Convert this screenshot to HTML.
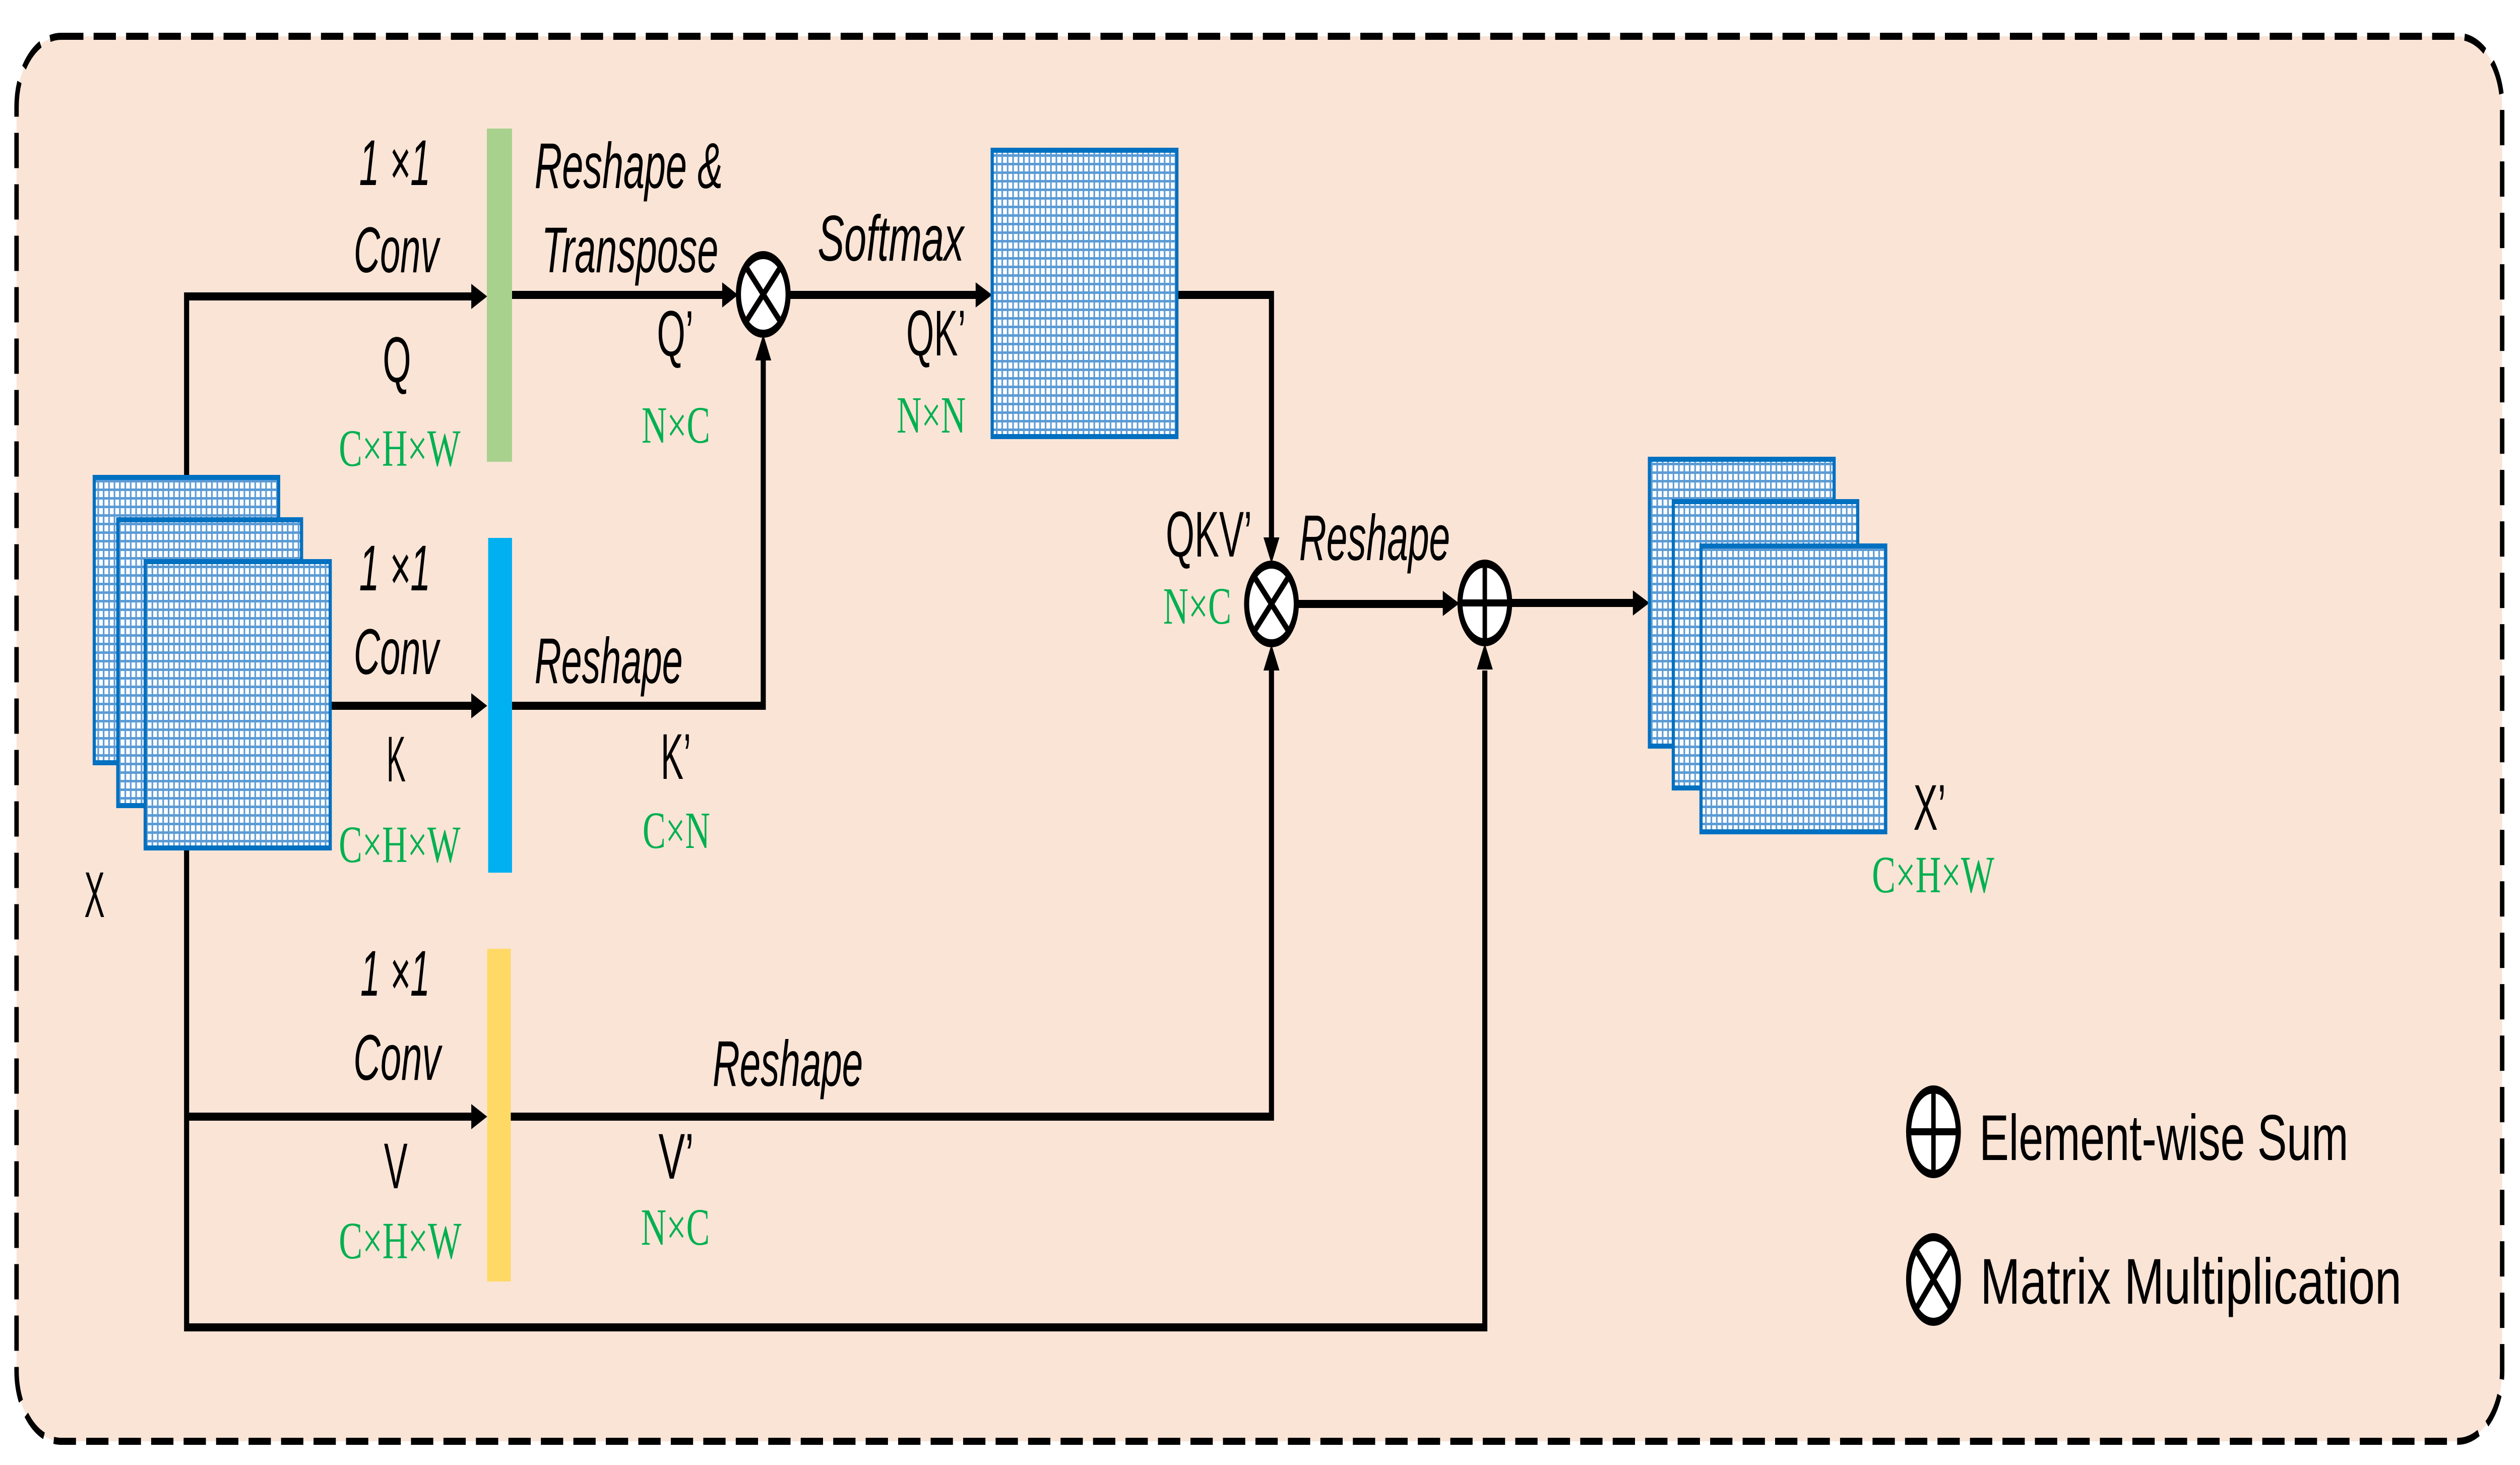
<!DOCTYPE html>
<html><head><meta charset="utf-8"><style>html,body{margin:0;padding:0;background:#fff;width:100%;height:100%;overflow:hidden}svg{display:block;width:100vw;height:100vh}</style></head>
<body>
<svg xmlns="http://www.w3.org/2000/svg" viewBox="0 0 7914 2906" preserveAspectRatio="none">
<defs>
<pattern id="g" patternUnits="userSpaceOnUse" width="17" height="17">
<rect width="17" height="17" fill="#ffffff"/>
<rect width="17" height="5" fill="#5b9bd5"/>
<rect width="5" height="17" fill="#5b9bd5"/>
</pattern>
</defs>
<rect x="52" y="72" width="7806" height="2787" rx="140" ry="140" fill="#fae4d6" stroke="#000" stroke-width="14" stroke-dasharray="70 32"/>

<g stroke="#000" stroke-width="16" fill="none">
<polyline points="1484,588 586,588 586,947"/>
<polyline points="586,1682 586,2633 4663,2633 4663,1330"/>
<line x1="586" y1="2215" x2="1484" y2="2215"/>
<line x1="1037" y1="1400" x2="1484" y2="1400"/>
<line x1="1608" y1="585" x2="2270" y2="585"/>
<polyline points="1608,1400 2397,1400 2397,715"/>
<line x1="2477" y1="585" x2="3066" y2="585"/>
<polyline points="3696,585 3993,585 3993,1070"/>
<polyline points="1604,2215 3993,2215 3993,1328"/>
<line x1="4073" y1="1198" x2="4533" y2="1198"/>
<line x1="4743" y1="1196" x2="5130" y2="1196"/>
</g>
<g fill="#000">
<polygon points="1530,588 1480,563 1480,613"/>
<polygon points="1530,1400 1480,1375 1480,1425"/>
<polygon points="1530,2215 1480,2190 1480,2240"/>
<polygon points="2318,585 2268,560 2268,610"/>
<polygon points="2397,663 2372,715 2422,715"/>
<polygon points="3116,585 3064,560 3064,610"/>
<polygon points="3993,1118 3968,1066 4018,1066"/>
<polygon points="3993,1278 3968,1330 4018,1330"/>
<polygon points="4583,1197 4531,1172 4531,1222"/>
<polygon points="4663,1276 4638,1328 4688,1328"/>
<polygon points="5180,1196 5128,1171 5128,1221"/>
</g>

<rect x="1529" y="255" width="79" height="661" fill="#a9d18e"/>
<rect x="1533" y="1067" width="75" height="664" fill="#00b0f0"/>
<rect x="1530" y="1882" width="74" height="660" fill="#ffd966"/>

<g fill="url(#g)" stroke="#0070c0" stroke-width="10">
<rect x="296" y="947" width="579" height="566"/>
<rect x="370" y="1031" width="577" height="567"/>
<rect x="456" y="1114" width="581" height="568"/>
<rect x="3116" y="298" width="580" height="568"/>
<rect x="5180" y="911" width="580" height="569"/>
<rect x="5255" y="995" width="579" height="568"/>
<rect x="5342" y="1083" width="580" height="567"/>
</g>

<g stroke="#000" stroke-width="16" fill="#fff">
<circle cx="2397" cy="584" r="78"/>
<circle cx="3993" cy="1198" r="78"/>
<circle cx="4663" cy="1196" r="78"/>
<ellipse cx="6072" cy="2245" rx="78" ry="84"/>
<ellipse cx="6072" cy="2538" rx="78" ry="84"/>
</g>
<g stroke="#000" stroke-width="14">
<line x1="2342" y1="529" x2="2452" y2="639"/><line x1="2452" y1="529" x2="2342" y2="639"/>
<line x1="3938" y1="1143" x2="4048" y2="1253"/><line x1="4048" y1="1143" x2="3938" y2="1253"/>
<line x1="4585" y1="1196" x2="4741" y2="1196"/><line x1="4663" y1="1118" x2="4663" y2="1274"/>
<line x1="5994" y1="2245" x2="6150" y2="2245"/><line x1="6072" y1="2161" x2="6072" y2="2329"/>
<line x1="6017" y1="2479" x2="6127" y2="2597"/><line x1="6127" y1="2479" x2="6017" y2="2597"/>
</g>

<g font-family="Liberation Sans, sans-serif" font-size="128" fill="#000">
<g font-style="italic">
<text x="1128" y="367" textLength="224" lengthAdjust="spacingAndGlyphs">1 ×1</text>
<text x="1111" y="540" textLength="267" lengthAdjust="spacingAndGlyphs">Conv</text>
<text x="1128" y="1171" textLength="224" lengthAdjust="spacingAndGlyphs">1 ×1</text>
<text x="1111" y="1337" textLength="267" lengthAdjust="spacingAndGlyphs">Conv</text>
<text x="1132" y="1975" textLength="218" lengthAdjust="spacingAndGlyphs">1 ×1</text>
<text x="1110" y="2142" textLength="274" lengthAdjust="spacingAndGlyphs">Conv</text>
<text x="1679" y="373" textLength="591" lengthAdjust="spacingAndGlyphs">Reshape &amp;</text>
<text x="1701" y="540" textLength="555" lengthAdjust="spacingAndGlyphs">Transpose</text>
<text x="1679" y="1355" textLength="465" lengthAdjust="spacingAndGlyphs">Reshape</text>
<text x="2238" y="2154" textLength="472" lengthAdjust="spacingAndGlyphs">Reshape</text>
<text x="2568" y="517" textLength="459" lengthAdjust="spacingAndGlyphs">Softmax</text>
<text x="4080" y="1111" textLength="474" lengthAdjust="spacingAndGlyphs">Reshape</text>
</g>
<text x="1202" y="758" textLength="89" lengthAdjust="spacingAndGlyphs">Q</text>
<text x="1214" y="1550" textLength="60" lengthAdjust="spacingAndGlyphs">K</text>
<text x="1206" y="2357" textLength="74" lengthAdjust="spacingAndGlyphs">V</text>
<text x="2063" y="706" textLength="115" lengthAdjust="spacingAndGlyphs">Q’</text>
<text x="2075" y="1545" textLength="95" lengthAdjust="spacingAndGlyphs">K’</text>
<text x="2068" y="2338" textLength="111" lengthAdjust="spacingAndGlyphs">V’</text>
<text x="2846" y="705" textLength="187" lengthAdjust="spacingAndGlyphs">QK’</text>
<text x="3661" y="1104" textLength="271" lengthAdjust="spacingAndGlyphs">QKV’</text>
<text x="265" y="1819" textLength="64" lengthAdjust="spacingAndGlyphs">X</text>
<text x="6009" y="1646" textLength="102" lengthAdjust="spacingAndGlyphs">X’</text>
<text x="6216" y="2301" textLength="1159" lengthAdjust="spacingAndGlyphs">Element-wise Sum</text>
<text x="6219" y="2586" textLength="1323" lengthAdjust="spacingAndGlyphs">Matrix Multiplication</text>
</g>
<g font-family="Liberation Serif, serif" font-size="104" fill="#00b050">
<text x="1064" y="924" textLength="382" lengthAdjust="spacingAndGlyphs">C×H×W</text>
<text x="1064" y="1710" textLength="382" lengthAdjust="spacingAndGlyphs">C×H×W</text>
<text x="1064" y="2496" textLength="385" lengthAdjust="spacingAndGlyphs">C×H×W</text>
<text x="2015" y="878" textLength="215" lengthAdjust="spacingAndGlyphs">N×C</text>
<text x="2018" y="1682" textLength="212" lengthAdjust="spacingAndGlyphs">C×N</text>
<text x="2013" y="2469" textLength="216" lengthAdjust="spacingAndGlyphs">N×C</text>
<text x="2816" y="858" textLength="217" lengthAdjust="spacingAndGlyphs">N×N</text>
<text x="3653" y="1237" textLength="214" lengthAdjust="spacingAndGlyphs">N×C</text>
<text x="5879" y="1770" textLength="384" lengthAdjust="spacingAndGlyphs">C×H×W</text>
</g>
</svg>
</body></html>
